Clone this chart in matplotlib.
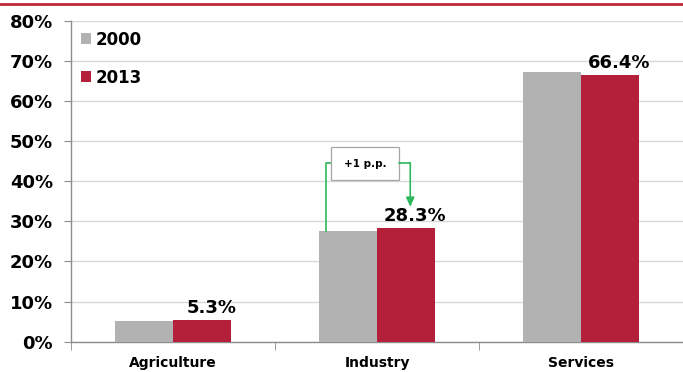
import numpy as np
import matplotlib.pyplot as plt
from matplotlib.lines import Line2D
from matplotlib.patches import Rectangle

sectors = ['Agriculture', 'Industry', 'Services']
share_2000 = [5.1, 27.7, 67.2]
share_2013 = [5.3, 28.3, 66.4]
years = ['2000', '2013']
y_ticks = [0, 10, 20, 30, 40, 50, 60, 70, 80]

GREY = '#B2B2B2'
RED = '#B41F3A'
GREEN = '#2EB85C'
AXIS = '#8C8C8C'

plt.rcParams['font.family'] = ['DejaVu Sans']
plt.rcParams['font.weight'] = 'bold'

fig = plt.figure(figsize=(6.83, 3.72), dpi=100)
ax = fig.add_axes([0.104, 0.0815, 0.896, 0.863])

x = np.arange(len(sectors))
w = 0.286
ax.bar(x - w / 2, share_2000, w, color=GREY, label=years[0], zorder=3)
ax.bar(x + w / 2, share_2013, w, color=RED, label=years[1], zorder=3)

# value labels on the 2013 bars
for xi, v in zip(x, share_2013):
    ax.text(xi + w / 2 + 0.045, v + 0.8, f'{v:.1f}%', ha='center', va='bottom',
            fontsize=13, fontweight='bold', zorder=5)

ax.set_xlim(-0.5, 2.5)
ax.set_ylim(0, 80)
ax.set_yticks(y_ticks)
ax.set_yticklabels([f'{t}%' for t in y_ticks], fontsize=13, fontweight='bold')
ax.set_xticks(x)
ax.set_xticklabels(sectors, fontsize=10, fontweight='bold')
ax.set_xticks(np.arange(-0.5, 3, 1), minor=True)
ax.tick_params(axis='x', which='major', length=0, pad=10)
ax.tick_params(axis='x', which='minor', length=6, color=AXIS, direction='out')
ax.tick_params(axis='y', length=5, color=AXIS, pad=8)

ax.grid(axis='y', color='#D9D9D9', linewidth=1, zorder=0)
for s in ['top', 'right']:
    ax.spines[s].set_visible(False)
for s in ['left', 'bottom']:
    ax.spines[s].set_color(AXIS)
    ax.spines[s].set_linewidth(1)

leg = ax.legend(loc='upper left', bbox_to_anchor=(0.005, 0.99), frameon=False,
                fontsize=12, handlelength=0.6, handleheight=0.6,
                handletextpad=0.3, labelspacing=1.2, borderaxespad=0)
for t in leg.get_texts():
    t.set_fontweight('bold')

# "+1 p.p." bracket between the Industry bars
gx = 1 - w + 0.035
ax.plot([gx, gx, 0.776], [share_2000[1], 44.5, 44.5], color=GREEN, lw=1.2, zorder=4)
ax.add_patch(Rectangle((0.776, 40.2), 0.333, 8.3, facecolor='white',
                       edgecolor='#A6A6A6', lw=0.9, zorder=4))
ax.text(0.943, 44.3, '+1 p.p.', ha='center', va='center', fontsize=7.5,
        fontweight='bold', zorder=5)
ax.annotate('', xy=(1.163, 33.6), xytext=(1.163, 44.5),
            arrowprops=dict(arrowstyle='-|>,head_width=0.25,head_length=0.55',
                            color=GREEN, lw=1.2, shrinkA=0, shrinkB=0), zorder=4)
ax.plot([1.109, 1.163], [44.5, 44.5], color=GREEN, lw=1.2, zorder=4)

# red rule across the top
fig.add_artist(Line2D([0, 1], [0.988, 0.988], color='#C0283C', lw=2))

plt.savefig('out.png', dpi=100)
